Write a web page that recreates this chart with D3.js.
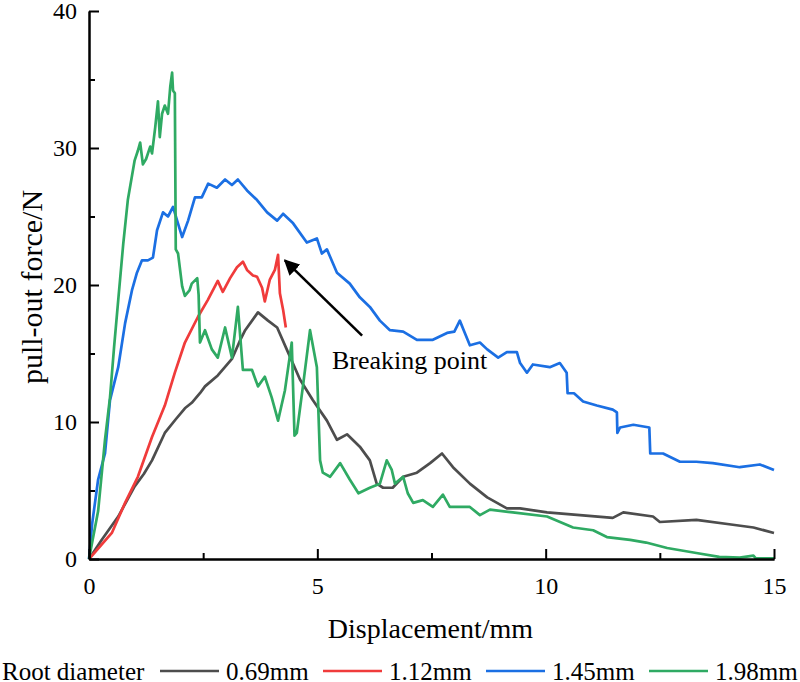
<!DOCTYPE html>
<html>
<head>
<meta charset="utf-8">
<script src="https://cdn.jsdelivr.net/npm/d3@7"></script>
<style>
  body { margin: 0; background: #fff; }
  svg text { font-family: "Liberation Serif", "Times New Roman", serif; fill: #000; }
  .axis path, .axis line { stroke: #000; stroke-width: 2; }
  .curve { fill: none; stroke-width: 2.7; stroke-linejoin: round; }
</style>
</head>
<body>
<svg id="svg"></svg>
<script>
/* pull-out force vs displacement for four root diameters */

const diameters = ["0.69mm", "1.12mm", "1.45mm", "1.98mm"];
const colors = ["#4d4d4d", "#f03b3b", "#1b6fe3", "#2faa63"];

// [displacement mm, force N]
const d069 = [[0,0],[0.28,1.4],[0.64,3.1],[1.0,5.3],[1.2,6.2],[1.38,7.2],[1.66,9.2],[1.9,10.2],[2.1,11.0],[2.25,11.4],[2.43,12.1],
  [2.54,12.6],[2.82,13.4],[3.13,14.6],[3.3,15.9],[3.42,16.7],[3.7,18.0],[3.92,17.4],[4.12,16.9],[4.33,15.3],[4.62,13.1],
  [4.9,11.6],[5.21,10.1],[5.43,8.7],[5.65,9.1],[5.93,8.2],[6.15,7.2],[6.3,5.5],[6.44,5.2],[6.65,5.2],[6.88,6.0],[7.18,6.3],
  [7.47,7.0],[7.73,7.7],[7.97,6.7],[8.34,5.5],[8.72,4.5],[9.15,3.7],[9.44,3.7],[10.03,3.4],[10.75,3.2],[11.47,3.0],
  [11.7,3.4],[12.35,3.1],[12.5,2.7],[13.3,2.85],[14.1,2.5],[14.55,2.3],[15,1.9]];

const d112 = [[0,0],[0.5,1.9],[0.79,4.1],[1.07,6.0],[1.38,8.9],[1.66,11.2],[1.88,13.6],[2.1,15.8],[2.39,17.7],[2.6,18.9],
  [2.82,20.3],[2.93,19.5],[3.09,20.5],[3.24,21.3],[3.37,21.7],[3.46,21.1],[3.59,20.7],[3.68,20.6],[3.79,19.8],[3.85,18.8],
  [3.96,20.4],[4.07,21.1],[4.14,22.2],[4.18,19.4],[4.25,18.2],[4.31,16.9]];

const d145 = [[0,0],[0.07,2.6],[0.2,5.8],[0.35,7.7],[0.46,11.6],[0.64,14.0],[0.79,17.2],[0.94,19.6],[1.05,20.9],[1.16,21.8],
  [1.29,21.8],[1.4,22.0],[1.49,24.0],[1.62,25.3],[1.73,25.0],[1.84,25.7],[1.93,24.7],[2.04,23.5],[2.17,24.7],[2.32,26.4],
  [2.47,26.4],[2.61,27.4],[2.8,27.1],[2.98,27.7],[3.13,27.3],[3.26,27.7],[3.46,26.9],[3.68,26.2],[3.9,25.3],[4.12,24.7],
  [4.25,25.2],[4.47,24.5],[4.77,23.1],[4.99,23.4],[5.1,22.3],[5.21,22.6],[5.43,20.9],[5.71,20.1],[5.93,19.1],[6.15,18.4],
  [6.37,17.4],[6.59,16.7],[6.88,16.6],[7.18,16.0],[7.53,16.0],[7.84,16.5],[8.0,16.6],[8.12,17.4],[8.23,16.5],[8.34,15.6],
  [8.56,15.8],[8.72,15.3],[8.96,14.7],[9.15,15.1],[9.37,15.1],[9.44,14.3],[9.59,13.6],[9.72,14.2],[10.09,14.0],[10.31,14.3],
  [10.46,13.6],[10.48,12.1],[10.62,12.1],[10.82,11.5],[11.12,11.2],[11.47,10.9],[11.56,10.7],[11.57,9.2],[11.63,9.6],
  [11.92,9.8],[12.27,9.6],[12.29,7.7],[12.57,7.7],[12.94,7.1],[13.3,7.1],[13.66,7.0],[14.25,6.7],[14.69,6.9],[15,6.5]];

const d198 = [[0,0],[0.2,3.5],[0.35,8.7],[0.46,11.8],[0.55,15.5],[0.64,18.9],[0.75,23.0],[0.85,26.2],[1.0,29.1],[1.07,29.8],
  [1.12,30.4],[1.18,28.8],[1.25,29.2],[1.34,30.1],[1.38,29.6],[1.45,31.5],[1.51,33.4],[1.55,30.8],[1.6,32.5],[1.66,33.1],
  [1.73,32.5],[1.78,34.5],[1.82,35.5],[1.84,34.2],[1.88,34.0],[1.9,22.6],[1.95,22.3],[2.04,19.9],[2.1,19.2],[2.2,19.6],
  [2.25,20.1],[2.37,20.5],[2.4,19.3],[2.43,15.8],[2.54,16.7],[2.69,15.3],[2.82,14.7],[2.98,16.9],[3.13,14.7],[3.26,18.4],
  [3.37,13.8],[3.57,13.8],[3.7,12.6],[3.85,13.3],[4.0,11.8],[4.14,10.1],[4.29,12.3],[4.44,15.8],[4.5,9.0],[4.55,9.2],
  [4.7,13.0],[4.84,16.7],[4.99,14.0],[5.06,7.2],[5.12,6.3],[5.28,6.0],[5.5,7.0],[5.71,5.8],[5.9,4.8],[6.15,5.2],[6.37,5.5],
  [6.52,7.2],[6.63,6.5],[6.7,5.5],[6.88,6.0],[6.98,4.8],[7.1,4.1],[7.31,4.3],[7.53,3.8],[7.75,4.7],[7.9,3.8],[8.34,3.8],
  [8.56,3.2],[8.78,3.6],[9.28,3.4],[10.03,3.1],[10.6,2.3],[11.04,2.1],[11.34,1.6],[11.85,1.4],[12.2,1.2],[12.66,0.8],
  [13.3,0.44],[13.8,0.15],[14.25,0.1],[14.55,0.25],[14.6,0.05],[15,0.05]];

const series = [d069, d112, d145, d198];

const xMajor = [0, 5, 10, 15], xMinor = [2.5, 7.5, 12.5];
const yMajor = [0, 10, 20, 30, 40], yMinor = [5, 15, 25, 35];

// annotation: arrow tip, arrow tail, label anchor (data units)
const arrowTip = [4.29, 21.8], arrowTail = [5.98, 16.3], labelAt = [5.32, 13.9];

const W = 800, H = 682;
const m = { left: 89, top: 11, right: 26, bottom: 123 };
const w = W - m.left - m.right, h = H - m.top - m.bottom;
const serif = '"Liberation Serif", "Times New Roman", serif';

const svg = d3.select("#svg").attr("width", W).attr("height", H);
const g = svg.append("g").attr("transform", `translate(${m.left},${m.top})`);

const x = d3.scaleLinear().domain([0, 15]).range([0, w]);
const y = d3.scaleLinear().domain([0, 40]).range([h, 0]);

// curves
const line = d3.line().x(d => x(d[0])).y(d => y(d[1]));
g.selectAll(".curve")
  .data(series)
  .enter()
  .append("path")
  .attr("class", "curve")
  .attr("stroke", (d, i) => colors[i])
  .attr("d", line);

// axes, ticks point inward
g.append("g").attr("class", "axis")
  .attr("transform", `translate(0,${h})`)
  .call(d3.axisBottom(x).tickValues(xMinor).tickFormat("").tickSizeInner(-6).tickSizeOuter(0));
g.append("g").attr("class", "axis")
  .attr("transform", `translate(0,${h})`)
  .call(d3.axisBottom(x).tickValues(xMajor).tickFormat(d3.format("d")).tickSizeInner(-10).tickSizeOuter(0).tickPadding(18));

g.append("g").attr("class", "axis")
  .call(d3.axisLeft(y).tickValues(yMinor).tickFormat("").tickSizeInner(-6).tickSizeOuter(0));
g.append("g").attr("class", "axis")
  .call(d3.axisLeft(y).tickValues(yMajor).tickFormat(d3.format("d")).tickSizeInner(-10).tickSizeOuter(0).tickPadding(12));

svg.selectAll(".axis").attr("font-family", serif).attr("font-size", 24);

// axis titles
svg.append("text")
  .attr("x", m.left + w / 2 - 1)
  .attr("y", 638)
  .attr("text-anchor", "middle")
  .style("font-family", serif)
  .style("font-size", "28px")
  .text("Displacement/mm");

svg.append("text")
  .attr("transform", `translate(42,287) rotate(-90)`)
  .attr("text-anchor", "middle")
  .style("font-family", serif)
  .style("font-size", "30px")
  .text("pull-out force/N");

// breaking point annotation
svg.append("defs").append("marker")
  .attr("id", "head")
  .attr("viewBox", "0 0 10 10")
  .attr("refX", 9).attr("refY", 5)
  .attr("markerWidth", 6).attr("markerHeight", 6)
  .attr("markerUnits", "strokeWidth")
  .attr("orient", "auto")
  .append("path")
  .attr("d", "M0,0 L10,5 L0,10 Z")
  .attr("fill", "#000");

g.append("line")
  .attr("x1", x(arrowTail[0])).attr("y1", y(arrowTail[1]))
  .attr("x2", x(arrowTip[0])).attr("y2", y(arrowTip[1]))
  .attr("stroke", "#000")
  .attr("stroke-width", 2.6)
  .attr("marker-end", "url(#head)");

g.append("text")
  .attr("x", x(labelAt[0]))
  .attr("y", y(labelAt[1]))
  .style("font-family", serif)
  .style("font-size", "26px")
  .text("Breaking point");

// legend along the bottom
const legend = svg.append("g").attr("transform", "translate(0,671)");
legend.append("text")
  .attr("x", 2).attr("y", 9)
  .style("font-family", serif)
  .style("font-size", "25px")
  .text("Root diameter");

const items = legend.selectAll(".item")
  .data(diameters)
  .enter()
  .append("g")
  .attr("class", "item")
  .attr("transform", (d, i) => `translate(${160 + i * 163},0)`);

items.append("line")
  .attr("x1", 0).attr("x2", 59)
  .attr("y1", 0).attr("y2", 0)
  .attr("stroke", (d, i) => colors[i])
  .attr("stroke-width", 2.7);

items.append("text")
  .attr("x", 66).attr("y", 9)
  .style("font-family", serif)
  .style("font-size", "25px")
  .text(d => d);
</script>
</body>
</html>
